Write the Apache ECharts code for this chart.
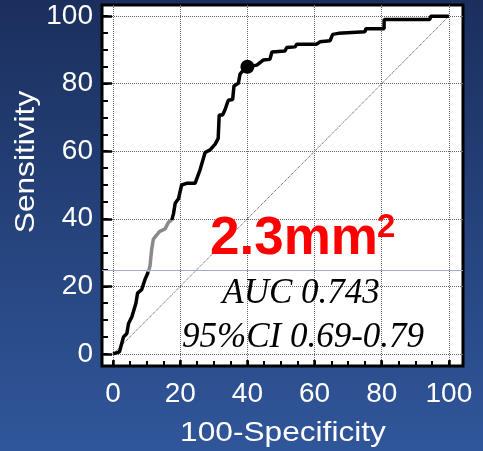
<!DOCTYPE html>
<html>
<head>
<meta charset="utf-8">
<script src="https://cdn.jsdelivr.net/npm/echarts@6/dist/echarts.min.js"></script>
<style>
  html, body { margin: 0; padding: 0; }
  #chart { width: 483px; height: 451px; }
</style>
</head>
<body>
<div id="chart"></div>
<script>
// ROC 曲线（截断值 2.3mm²）
const MAJOR_TICKS = [0, 20, 40, 60, 80, 100];
const MINOR_TICKS = [0, 5, 10, 15, 20, 25, 30, 35, 40, 45, 50, 55, 60, 65, 70, 75, 80, 85, 90, 95, 100];

// 曲线分三段：黑 / 灰 / 黑
const rocLow = [[0, 0], [1.9, 0.6], [3.1, 5], [4.1, 6], [4.6, 9], [5.6, 11], [6.1, 11.5], [6.8, 15],
  [7.3, 18], [8.5, 19], [9.5, 22], [10.5, 24.3]];
const rocMid = [[10.5, 24.3], [11, 26], [11.5, 31], [12, 34], [13, 35.2], [13.8, 36.2], [15.5, 37],
  [16.5, 39], [17.5, 39.6]];
const rocHigh = [[17.5, 39.6], [18, 41.6], [18.5, 44.6], [19.5, 46], [20.4, 50], [21.9, 50.5], [24.4, 50.5],
  [25.9, 54.5], [27.4, 59.6], [28.9, 60.4], [30.4, 62.1], [31.3, 63.8], [31.6, 70.7], [32.6, 70.7],
  [33.3, 72.2], [34.3, 75.1], [35.6, 75.3], [36, 79.3], [37.3, 80.1], [37.8, 82.8], [38.8, 84], [40, 85],
  [42.8, 85.5], [44.7, 87], [46.7, 87.2], [47.3, 89.4], [51.2, 89.7], [51.7, 90.7], [54.2, 90.9],
  [54.7, 91.7], [60.6, 91.7], [61.6, 92.4], [64.6, 92.7], [65.4, 94.6], [67.1, 94.9], [67.6, 95.4],
  [75, 95.4], [75.3, 96.3], [80.7, 96.3], [80.7, 99], [94.3, 99], [94.6, 100], [100, 100]];
const diagonal = [[0, 0], [100, 100]];
const cutoff = [[40, 85]];

const X_RANGE = [-3.3, 104.2];
const Y_RANGE = [-3.6, 103.3];
const LABEL_FONT = 'Liberation Sans, Arial, sans-serif';

function majorAxis(range, isY) {
  return {
    type: 'value',
    min: range[0],
    max: range[1],
    position: isY ? 'left' : 'bottom',
    axisLine: { show: false, onZero: false },
    axisTick: {
      show: true, inside: true, length: isY ? 10 : 6,
      customValues: MAJOR_TICKS,
      lineStyle: { color: '#000', width: 2.5 },
    },
    axisLabel: {
      customValues: MAJOR_TICKS,
      color: '#fff', fontSize: 28, fontFamily: LABEL_FONT,
      margin: isY ? 9 : 14,
      padding: isY ? [13, 0, 0, 0] : 0,
    },
    splitLine: { show: true, lineStyle: { color: '#666', width: 1, type: 'dotted' } },
  };
}

function minorAxis(range, isY) {
  return {
    type: 'value',
    min: range[0],
    max: range[1],
    position: isY ? 'left' : 'bottom',
    axisLine: { show: false, onZero: false },
    axisTick: {
      show: true, inside: true, length: isY ? 6 : 5,
      customValues: MINOR_TICKS,
      lineStyle: { color: '#000', width: 2 },
    },
    axisLabel: { show: false },
    splitLine: { show: false },
  };
}

const chart = echarts.init(document.getElementById('chart'));
chart.setOption({
  animation: false,
  backgroundColor: {
    type: 'linear', x: 0, y: 0, x2: 0, y2: 1,
    colorStops: [
      { offset: 0, color: '#1b2f5d' },
      { offset: 1, color: '#30569a' },
    ],
  },
  grid: {
    left: 102, right: 20, top: 5, bottom: 85,
    show: true, backgroundColor: '#fff', borderColor: '#000', borderWidth: 3,
  },
  xAxis: [majorAxis(X_RANGE, false), minorAxis(X_RANGE, false)],
  yAxis: [majorAxis(Y_RANGE, true), minorAxis(Y_RANGE, true)],
  series: [
    {
      type: 'line',
      data: diagonal,
      symbol: 'none',
      lineStyle: { color: '#444', width: 1, type: 'dotted' },
      markLine: {
        silent: true,
        symbol: 'none',
        label: { show: false },
        lineStyle: { color: '#9dadcc', width: 1, type: 'solid' },
        data: [{ yAxis: 24.8 }],
      },
      z: 2,
    },
    { type: 'line', data: rocLow, symbol: 'none', lineStyle: { color: '#000', width: 3.5 }, z: 3 },
    { type: 'line', data: rocMid, symbol: 'none', lineStyle: { color: '#8a8a8a', width: 3.5 }, z: 3 },
    { type: 'line', data: rocHigh, symbol: 'none', lineStyle: { color: '#000', width: 3.5 }, z: 3 },
    { type: 'scatter', data: cutoff, symbolSize: 14, itemStyle: { color: '#000', opacity: 1 }, z: 4 },
  ],
  graphic: [
    {
      type: 'text', left: 210, top: 213, z: 10,
      style: { text: '2.3mm', fill: '#ff0000', font: 'bold 53px ' + LABEL_FONT },
    },
    {
      type: 'text', left: 377, top: 211, z: 10,
      style: { text: '2', fill: '#ff0000', font: 'bold 33px ' + LABEL_FONT },
    },
    {
      type: 'text', x: 301, y: 294, z: 10,
      style: {
        text: 'AUC 0.743', fill: '#000', font: 'italic 35px Liberation Serif, Times New Roman, serif',
        textAlign: 'center', textVerticalAlign: 'middle',
      },
    },
    {
      type: 'text', x: 303, y: 338, z: 10,
      style: {
        text: '95%CI 0.69-0.79', fill: '#000', font: 'italic 35px Liberation Serif, Times New Roman, serif',
        textAlign: 'center', textVerticalAlign: 'middle',
      },
    },
    {
      type: 'text', x: 26, y: 162, rotation: Math.PI / 2, scaleX: 1.13, z: 10,
      style: {
        text: 'Sensitivity', fill: '#fff', font: '28px ' + LABEL_FONT,
        textAlign: 'center', textVerticalAlign: 'middle',
      },
    },
    {
      type: 'text', x: 283, y: 433, scaleX: 1.13, z: 10,
      style: {
        text: '100-Specificity', fill: '#fff', font: '28px ' + LABEL_FONT,
        textAlign: 'center', textVerticalAlign: 'middle',
      },
    },
  ],
});
</script>
</body>
</html>
